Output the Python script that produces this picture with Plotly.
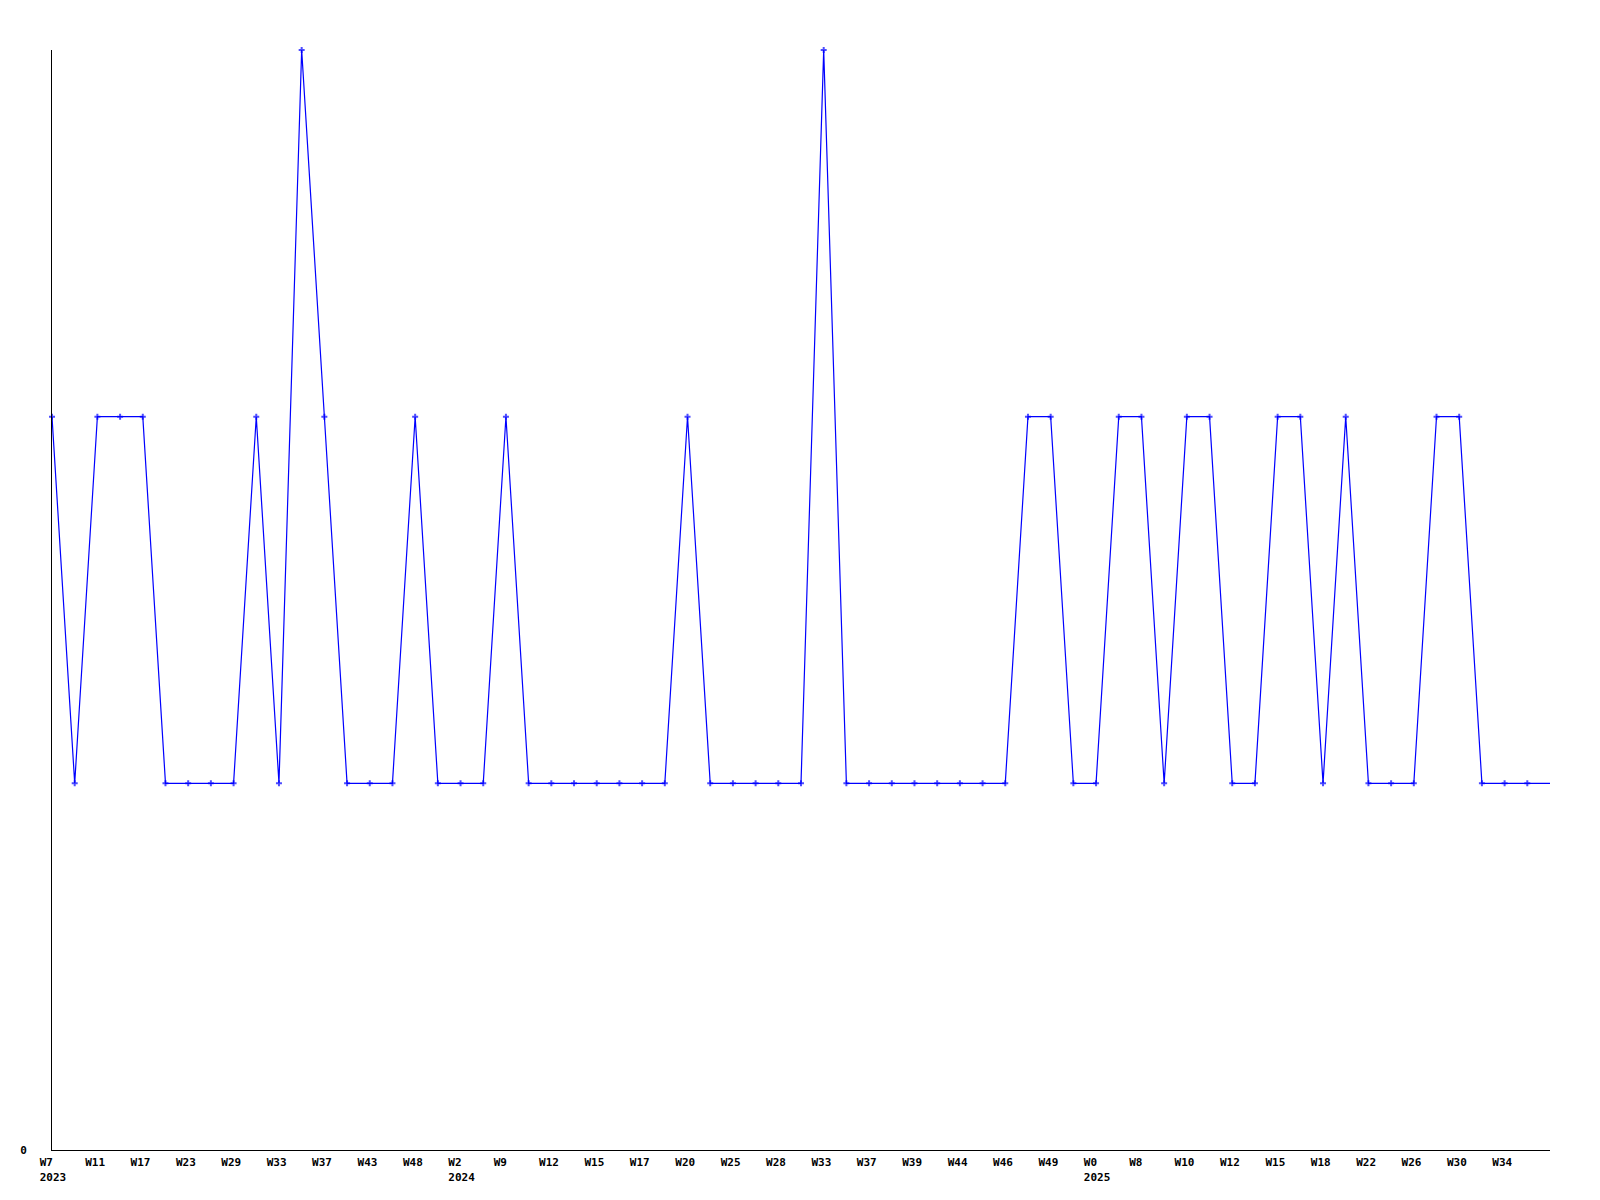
import plotly.graph_objects as go

# Values per point (weekly)
values = [2, 1, 2, 2, 2, 1, 1, 1, 1, 2, 1, 3, 2, 1, 1, 1, 2, 1, 1, 1,
          2, 1, 1, 1, 1, 1, 1, 1, 2, 1, 1, 1, 1, 1, 3, 1, 1, 1, 1, 1,
          1, 1, 1, 2, 2, 1, 1, 2, 2, 1, 2, 2, 1, 1, 2, 2, 1, 2, 1, 1,
          1, 2, 2, 1, 1, 1, 1]

# Tick labels (every second point)
week_labels = ["W7", "W11", "W17", "W23", "W29", "W33", "W37", "W43", "W48",
               "W2", "W9", "W12", "W15", "W17", "W20", "W25", "W28", "W33",
               "W37", "W39", "W44", "W46", "W49",
               "W0", "W8", "W10", "W12", "W15", "W18", "W22", "W26", "W30", "W34"]
# year shown under the label at these tick-label indices
year_at = {0: "2023", 9: "2024", 23: "2025"}

x = list(range(len(values)))
tick_vals = [2 * i for i in range(len(week_labels))]
NB = "\u00a0"
tick_text = []
for i, w in enumerate(week_labels):
    if i in year_at:
        y = year_at[i]
        width = max(len(w), len(y))
        tick_text.append(w + NB * (width - len(w)) + "<br>" + y + NB * (width - len(y)))
    else:
        tick_text.append(w + NB * (4 - len(w)))

marker_sizes = [5] * (len(values) - 1) + [0]

fig = go.Figure()
fig.add_trace(go.Scatter(
    x=x, y=values, mode="lines+markers",
    line=dict(color="#0000FF", width=1.2),
    marker=dict(symbol="cross", size=marker_sizes, color="#0000FF", line=dict(width=0)),
    cliponaxis=False, showlegend=False, hoverinfo="skip",
))

font = dict(family="DejaVu Sans Mono", size=11, color="#000000", weight="bold")
fig.update_layout(
    width=1600, height=1200,
    margin=dict(l=42, r=58, t=42, b=58),
    paper_bgcolor="white", plot_bgcolor="white",
    showlegend=False,
    xaxis=dict(range=[0, len(values) - 1], tickmode="array", tickvals=tick_vals,
               ticktext=tick_text, tickfont=font, showgrid=False, zeroline=False,
               showline=True, linecolor="#000000", linewidth=1, ticks="",
               tickangle=0, ticklabelshift=1, ticklabelstandoff=2),
    yaxis=dict(range=[0, 3], tickmode="array", tickvals=[0], ticktext=["0"],
               tickfont=font, showgrid=False, zeroline=False,
               showline=True, linecolor="#000000", linewidth=1, ticks="",
               ticklabelstandoff=22),
)

fig.write_html("out.html")
